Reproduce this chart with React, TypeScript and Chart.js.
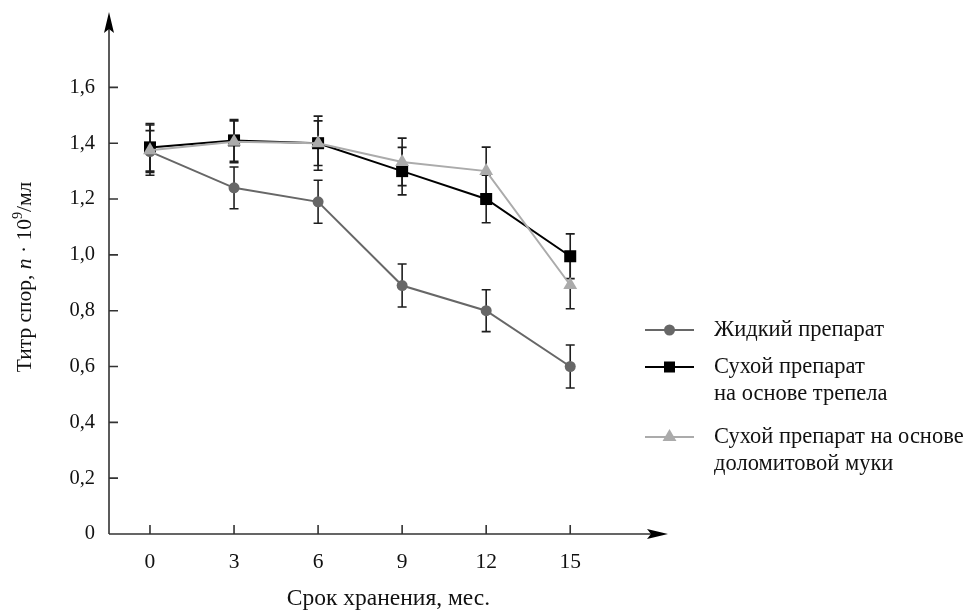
import React, { useEffect, useRef } from 'react';
import { Chart, registerables } from 'chart.js';

Chart.register(...registerables);

const months = [0, 3, 6, 9, 12, 15];
const liquid = [1.37, 1.24, 1.19, 0.89, 0.8, 0.6];
const liquidErr = [0.075, 0.075, 0.077, 0.077, 0.075, 0.077];
const tripoli = [1.385, 1.41, 1.4, 1.3, 1.2, 0.995];
const tripoliErr = [0.085, 0.075, 0.08, 0.085, 0.085, 0.08];
const dolomite = [1.375, 1.405, 1.4, 1.333, 1.3, 0.892];
const dolomiteErr = [0.09, 0.075, 0.097, 0.085, 0.086, 0.085];
const yTickValues = [0, 0.2, 0.4, 0.6, 0.8, 1.0, 1.2, 1.4, 1.6];
const seriesNames = [
  ['Жидкий препарат'],
  ['Сухой препарат', 'на основе трепела'],
  ['Сухой препарат на основе', 'доломитовой муки'],
];
const xTitle = 'Срок хранения, мес.';

const SERIF = '"Liberation Serif", "DejaVu Serif", serif';
const COL_LIQ = '#676767';
const COL_TRI = '#000000';
const COL_DOL = '#ababab';

function drawMarker(ctx: CanvasRenderingContext2D, style: string, x: number, y: number, color: string) {
  ctx.save();
  ctx.fillStyle = color;
  ctx.beginPath();
  if (style === 'circle') {
    ctx.arc(x, y, 5.5, 0, Math.PI * 2);
  } else if (style === 'rect') {
    ctx.rect(x - 5.5, y - 5.5, 11, 11);
  } else {
    const r = 8;
    ctx.moveTo(x, y - r);
    ctx.lineTo(x + r * Math.sin((2 * Math.PI) / 3), y - r * Math.cos((2 * Math.PI) / 3));
    ctx.lineTo(x + r * Math.sin((4 * Math.PI) / 3), y - r * Math.cos((4 * Math.PI) / 3));
    ctx.closePath();
  }
  ctx.fill();
  ctx.restore();
}

const errorBarPlugin = {
  id: 'errorBars',
  beforeDatasetsDraw(chart: any) {
    const ctx = chart.ctx as CanvasRenderingContext2D;
    const xs = chart.scales.x;
    const ys = chart.scales.y;
    const sets = [
      { v: liquid, e: liquidErr },
      { v: tripoli, e: tripoliErr },
      { v: dolomite, e: dolomiteErr },
    ];
    ctx.save();
    ctx.strokeStyle = '#1e1e1e';
    ctx.lineWidth = 1.6;
    sets.forEach((s) => {
      months.forEach((m, i) => {
        const x = xs.getPixelForValue(m);
        const yt = ys.getPixelForValue(s.v[i] + s.e[i]);
        const yb = ys.getPixelForValue(s.v[i] - s.e[i]);
        ctx.beginPath();
        ctx.moveTo(x, yt);
        ctx.lineTo(x, yb);
        ctx.moveTo(x - 4.5, yt);
        ctx.lineTo(x + 4.5, yt);
        ctx.moveTo(x - 4.5, yb);
        ctx.lineTo(x + 4.5, yb);
        ctx.stroke();
      });
    });
    ctx.restore();
  },
};

const axesPlugin = {
  id: 'arrowAxes',
  beforeDatasetsDraw(chart: any) {
    const ctx = chart.ctx as CanvasRenderingContext2D;
    const { left, right, top, bottom } = chart.chartArea;
    const xs = chart.scales.x;
    const ys = chart.scales.y;
    ctx.save();
    ctx.strokeStyle = '#333';
    ctx.fillStyle = '#000';
    ctx.lineWidth = 1.6;
    ctx.beginPath();
    ctx.moveTo(left, bottom);
    ctx.lineTo(right - 12, bottom);
    ctx.moveTo(left, bottom);
    ctx.lineTo(left, top + 12);
    ctx.stroke();
    ctx.beginPath();
    yTickValues.forEach((v) => {
      if (v === 0) return;
      const y = ys.getPixelForValue(v);
      ctx.moveTo(left, y);
      ctx.lineTo(left + 9, y);
    });
    months.forEach((m) => {
      const x = xs.getPixelForValue(m);
      ctx.moveTo(x, bottom);
      ctx.lineTo(x, bottom - 9);
    });
    ctx.stroke();
    ctx.beginPath();
    ctx.moveTo(right, bottom);
    ctx.lineTo(right - 21, bottom - 5);
    ctx.lineTo(right - 17, bottom);
    ctx.lineTo(right - 21, bottom + 5);
    ctx.closePath();
    ctx.fill();
    ctx.beginPath();
    ctx.moveTo(left, top);
    ctx.lineTo(left - 5, top + 21);
    ctx.lineTo(left, top + 17);
    ctx.lineTo(left + 5, top + 21);
    ctx.closePath();
    ctx.fill();
    ctx.restore();
  },
};

const decorPlugin = {
  id: 'decor',
  afterDraw(chart: any) {
    const ctx = chart.ctx as CanvasRenderingContext2D;
    const { top, bottom } = chart.chartArea;
    const size = 21.5;
    const parts = [
      { t: 'Титр спор, ', f: `${size}px ${SERIF}`, dy: 0 },
      { t: 'n', f: `italic ${size}px ${SERIF}`, dy: 0 },
      { t: ' · 10', f: `${size}px ${SERIF}`, dy: 0 },
      { t: '9', f: `${Math.round(size * 0.65)}px ${SERIF}`, dy: -9 },
      { t: '/мл', f: `${size}px ${SERIF}`, dy: 0 },
    ];
    ctx.save();
    ctx.fillStyle = '#111';
    let total = 0;
    parts.forEach((p) => {
      ctx.font = p.f;
      total += ctx.measureText(p.t).width;
    });
    ctx.translate(31, (top + bottom) / 2 + 4);
    ctx.rotate(-Math.PI / 2);
    ctx.textBaseline = 'alphabetic';
    ctx.textAlign = 'left';
    let x = -total / 2;
    parts.forEach((p) => {
      ctx.font = p.f;
      ctx.fillText(p.t, x, p.dy);
      x += ctx.measureText(p.t).width;
    });
    ctx.restore();

    const styles = [
      { c: COL_LIQ, s: 'circle', lw: 2 },
      { c: COL_TRI, s: 'rect', lw: 2 },
      { c: COL_DOL, s: 'triangle', lw: 2 },
    ];
    const rowY = [330, 367, 437];
    ctx.save();
    ctx.font = `22.5px ${SERIF}`;
    ctx.textBaseline = 'middle';
    ctx.textAlign = 'left';
    seriesNames.forEach((lines, i) => {
      const y = rowY[i];
      const st = styles[i];
      ctx.strokeStyle = st.c;
      ctx.lineWidth = st.lw;
      ctx.beginPath();
      ctx.moveTo(645, y);
      ctx.lineTo(694, y);
      ctx.stroke();
      drawMarker(ctx, st.s, 669.5, y, st.c);
      ctx.fillStyle = '#111';
      lines.forEach((ln, j) => {
        ctx.fillText(ln, 714, y + j * 27);
      });
    });
    ctx.restore();
  },
};

export default function App() {
  const ref = useRef<HTMLCanvasElement | null>(null);
  useEffect(() => {
    if (!ref.current) return;
    const mk = (vals: number[]) => months.map((m, i) => ({ x: m, y: vals[i] }));
    const chart = new Chart(ref.current, {
      type: 'line',
      data: {
        datasets: [
          {
            label: seriesNames[2].join(' '),
            data: mk(dolomite),
            borderColor: COL_DOL,
            backgroundColor: COL_DOL,
            borderWidth: 2,
            pointStyle: 'triangle',
            pointRadius: 8,
            pointBorderWidth: 0,
            order: 1,
          },
          {
            label: seriesNames[1].join(' '),
            data: mk(tripoli),
            borderColor: COL_TRI,
            backgroundColor: COL_TRI,
            borderWidth: 2,
            pointStyle: 'rect',
            pointRadius: 8.5,
            pointBorderWidth: 0,
            order: 2,
          },
          {
            label: seriesNames[0][0],
            data: mk(liquid),
            borderColor: COL_LIQ,
            backgroundColor: COL_LIQ,
            borderWidth: 2,
            pointStyle: 'circle',
            pointRadius: 5.5,
            pointBorderWidth: 0,
            order: 3,
          },
        ],
      },
      options: {
        animation: false,
        responsive: false,
        maintainAspectRatio: false,
        layout: { padding: { top: 12, right: 312, left: 0, bottom: 0 } },
        plugins: { legend: { display: false }, tooltip: { enabled: false } },
        scales: {
          x: {
            type: 'linear',
            min: -1.463,
            max: 18.49,
            grid: { display: false, drawTicks: false },
            border: { display: false },
            afterBuildTicks: (s: any) => {
              s.ticks = months.map((v) => ({ value: v }));
            },
            afterFit: (s: any) => {
              s.height = 81;
              s.paddingLeft = 0;
              s.paddingRight = 0;
            },
            ticks: {
              padding: 15,
              color: '#111',
              font: { family: SERIF, size: 21.5 },
              maxRotation: 0,
              autoSkip: false,
              callback: (v: any) => String(v),
            },
            title: {
              display: true,
              text: xTitle,
              color: '#111',
              font: { family: SERIF, size: 23.5 },
              padding: { top: 0, bottom: 2 },
            },
          },
          y: {
            type: 'linear',
            min: 0,
            max: 1.87,
            grid: { display: false, drawTicks: false },
            border: { display: false },
            afterBuildTicks: (s: any) => {
              s.ticks = yTickValues.map((v) => ({ value: v }));
            },
            afterFit: (s: any) => {
              s.width = 109;
              s.paddingTop = 0;
              s.paddingBottom = 0;
            },
            ticks: {
              padding: 14,
              color: '#111',
              font: { family: SERIF, size: 20.5 },
              autoSkip: false,
              callback: (v: any) => (v === 0 ? '0' : Number(v).toFixed(1).replace('.', ',')),
            },
          },
        },
      },
      plugins: [axesPlugin, errorBarPlugin, decorPlugin],
    });
    return () => chart.destroy();
  }, []);
  return (
    <div style={{ position: 'fixed', left: 0, top: 0, width: 980, height: 615, background: '#fff' }}>
      <canvas ref={ref} width={980} height={615} style={{ width: 980, height: 615 }} />
    </div>
  );
}
